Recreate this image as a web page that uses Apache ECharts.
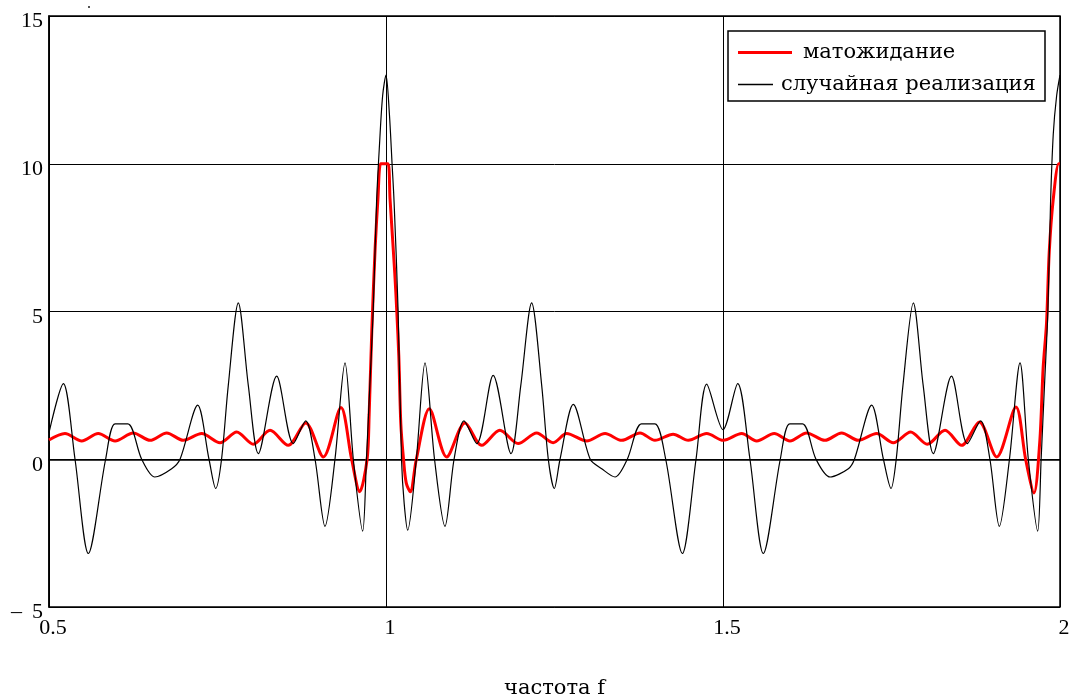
<!DOCTYPE html>
<html>
<head>
<meta charset="utf-8">
<script src="https://cdn.jsdelivr.net/npm/echarts@6/dist/echarts.min.js"></script>
<style>
  html, body { margin: 0; padding: 0; background: #fff; }
  #chart { width: 1071px; height: 697px; }
</style>
</head>
<body>
<div id="chart"></div>
<script>
// Expected spectrum (матожидание): frequencies and values
const meanFreq = [
  0.500, 0.5237, 0.5485, 0.573, 0.598, 0.625, 0.650, 0.6746, 0.6993, 0.7265,
  0.7537, 0.7785, 0.8031, 0.8279, 0.855, 0.8809, 0.907, 0.9332, 0.949, 0.961,
  0.972, 0.975, 0.979, 0.984, 0.988, 0.992, 0.997, 1.003,
  1.006, 1.013, 1.016, 1.019, 1.022, 1.026, 1.030, 1.036, 1.045, 1.0643,
  1.090, 1.1172, 1.142, 1.169, 1.196, 1.2235, 1.248, 1.268, 1.2977, 1.325,
  1.3497, 1.3769, 1.399, 1.426, 1.4485, 1.4758, 1.5005, 1.5277, 1.550, 1.576,
  1.5994, 1.624, 1.6513, 1.676, 1.7008, 1.728, 1.7527, 1.7784, 1.8031, 1.8294,
  1.8541, 1.8803, 1.9061, 1.9347, 1.949, 1.9614, 1.970, 1.975, 1.980, 1.984,
  1.990, 1.998, 2.000
];
const meanValue = [
  0.65, 0.87, 0.62, 0.87, 0.62, 0.89, 0.64, 0.89, 0.64, 0.87,
  0.56, 0.92, 0.51, 0.98, 0.47, 1.23, 0.08, 1.75, 0.0, -1.1,
  0.0, 1.5, 4.4, 7.2, 8.8, 10.0, 10.0, 10.0,
  8.8, 6.3, 5.0, 3.5, 1.2, 0.0, -0.8, -1.1, 0.0, 1.71,
  0.08, 1.23, 0.47, 0.98, 0.53, 0.89, 0.56, 0.87, 0.62, 0.87,
  0.64, 0.89, 0.64, 0.85, 0.64, 0.87, 0.64, 0.87, 0.62, 0.87,
  0.62, 0.89, 0.64, 0.89, 0.64, 0.87, 0.56, 0.92, 0.51, 0.98,
  0.47, 1.26, 0.08, 1.77, 0.0, -1.14, 0.6, 3.1, 4.6, 7.0,
  8.8, 10.0, 10.0
];

// One random realisation (случайная реализация)
const realFreq = [
  0.500, 0.5213, 0.5386, 0.5584, 0.584, 0.598, 0.617, 0.6375, 0.657, 0.682,
  0.6944, 0.7206, 0.7374, 0.7473, 0.756, 0.766, 0.7809, 0.7957, 0.8106, 0.8378,
  0.8625, 0.8809, 0.8947, 0.9095, 0.9243, 0.9392, 0.9515, 0.9654, 0.971, 0.976,
  0.981, 0.986, 0.990, 0.995, 1.000, 1.005, 1.009, 1.012, 1.018, 1.023,
  1.027, 1.0322, 1.045, 1.0579, 1.072, 1.0875, 1.101, 1.1157, 1.1346, 1.159,
  1.1855, 1.200, 1.2161, 1.231, 1.2408, 1.2497, 1.2582, 1.2779, 1.303, 1.320,
  1.3398, 1.358, 1.379, 1.399, 1.415, 1.4397, 1.460, 1.4758, 1.500, 1.5218,
  1.540, 1.5598, 1.585, 1.599, 1.618, 1.638, 1.6588, 1.686, 1.695, 1.7206,
  1.738, 1.7493, 1.757, 1.767, 1.7824, 1.797, 1.812, 1.839, 1.8625, 1.8823,
  1.896, 1.910, 1.925, 1.9407, 1.953, 1.9669, 1.972, 1.977, 1.982, 1.986,
  1.990, 1.995, 2.000
];
const realValue = [
  0.9, 2.56, 0.0, -3.19, 0.0, 1.2, 1.2, 0.0, -0.6, -0.32,
  0.0, 1.83, 0.0, -0.99, 0.0, 2.5, 5.29, 2.5, 0.19, 2.81,
  0.53, 1.30, 0.0, -2.27, 0.0, 3.26, 0.0, -2.43, 0.0, 2.5,
  5.0, 8.7, 10.5, 12.3, 13.0, 11.7, 10.0, 8.7, 5.0, 0.0,
  -1.5, -2.4, 0.0, 3.26, 0.0, -2.27, 0.0, 1.30, 0.53, 2.84,
  0.19, 2.5, 5.29, 2.5, 0.0, -0.99, 0.0, 1.86, 0.0, -0.32,
  -0.6, 0.0, 1.2, 1.2, 0.0, -3.19, 0.0, 2.54, 1.0, 2.56,
  0.0, -3.19, 0.0, 1.2, 1.2, 0.0, -0.6, -0.32, 0.0, 1.83,
  0.0, -0.99, 0.0, 2.5, 5.29, 2.5, 0.19, 2.81, 0.53, 1.30,
  0.0, -2.27, 0.0, 3.26, 0.0, -2.43, 0.0, 2.5, 5.0, 8.7,
  11.0, 12.3, 13.0
];

// Axis tick labels
const xTickValues = [0.5, 1, 1.5, 2];
const xTickLabels = ['0.5', '1', '1.5', '2'];
const yTickValues = [-5, 0, 5, 10, 15];
const yTickLabels = ['\u2013\u2009 5', '0', '5', '10', '15'];

const seriesNames = ['матожидание', 'случайная реализация'];
const xAxisTitle = 'частота f';

const pairs = (xs, ys) => xs.map((x, i) => [x, ys[i]]);
const labelFor = (vals, labels) => v => {
  const i = vals.findIndex(t => Math.abs(t - v) < 1e-9);
  return i >= 0 ? labels[i] : '';
};

const serif = '"Liberation Serif", "Times New Roman", serif';
const wideSerif = '"DejaVu Serif", "Liberation Serif", serif';

const chart = echarts.init(document.getElementById('chart'), null, { renderer: 'canvas' });
chart.setOption({
  backgroundColor: '#ffffff',
  animation: false,
  grid: {
    left: 49, right: 11, top: 16, bottom: 90,
    containLabel: false, outerBoundsMode: 'none',
    show: true, borderColor: '#000', borderWidth: 1.5, backgroundColor: 'transparent'
  },
  xAxis: {
    type: 'value', min: 0.5, max: 2, interval: 0.5,
    name: xAxisTitle, nameLocation: 'middle', nameGap: 71,
    nameTextStyle: { fontFamily: wideSerif, fontSize: 21, color: '#000' },
    axisLine: { show: true, lineStyle: { color: '#000', width: 1.5 } },
    axisTick: { show: false },
    axisLabel: {
      margin: 10, color: '#000', fontFamily: serif, fontSize: 22,
      padding: [0, 0, 0, 8],
      formatter: labelFor(xTickValues, xTickLabels)
    },
    splitLine: { show: true, lineStyle: { color: '#000', width: 1 } }
  },
  yAxis: {
    type: 'value', min: -5, max: 15, interval: 5,
    axisLine: { show: true, lineStyle: { color: '#000', width: 1.5 } },
    axisTick: { show: false },
    axisLabel: {
      margin: 6, color: '#000', fontFamily: serif, fontSize: 22,
      verticalAlign: 'top', lineHeight: 11,
      formatter: labelFor(yTickValues, yTickLabels)
    },
    splitLine: { show: true, lineStyle: { color: '#000', width: 1 } }
  },
  legend: [
    {
      data: [seriesNames[0]], left: 733, top: 37, z: 10,
      icon: 'rect', itemWidth: 54, itemHeight: 3, selectedMode: false,
      textStyle: { fontFamily: wideSerif, fontSize: 21, color: '#000', padding: [0, 0, 0, 6] }
    },
    {
      data: [seriesNames[1]], left: 733, top: 69, z: 10,
      icon: 'rect', itemWidth: 35, itemHeight: 1.5, selectedMode: false,
      textStyle: { fontFamily: wideSerif, fontSize: 21, color: '#000', padding: [0, 0, 0, 3] }
    }
  ],
  graphic: [
    {
      type: 'rect', z: 5,
      shape: { x: 728, y: 31, width: 317, height: 70 },
      style: { fill: '#fff', stroke: '#000', lineWidth: 1.5 }
    },
    {
      type: 'rect', z: 5,
      shape: { x: 88, y: 6, width: 2, height: 2 },
      style: { fill: '#555' }
    }
  ],
  series: [
    {
      name: seriesNames[0], type: 'line', data: pairs(meanFreq, meanValue),
      symbol: 'none', smooth: 0.3, z: 2,
      lineStyle: { color: '#ff0000', width: 3 }, itemStyle: { color: '#ff0000' }
    },
    {
      name: seriesNames[1], type: 'line', data: pairs(realFreq, realValue),
      symbol: 'none', smooth: 0.3, z: 3,
      lineStyle: { color: '#000000', width: 1.2 }, itemStyle: { color: '#000000' }
    }
  ]
});
</script>
</body>
</html>
